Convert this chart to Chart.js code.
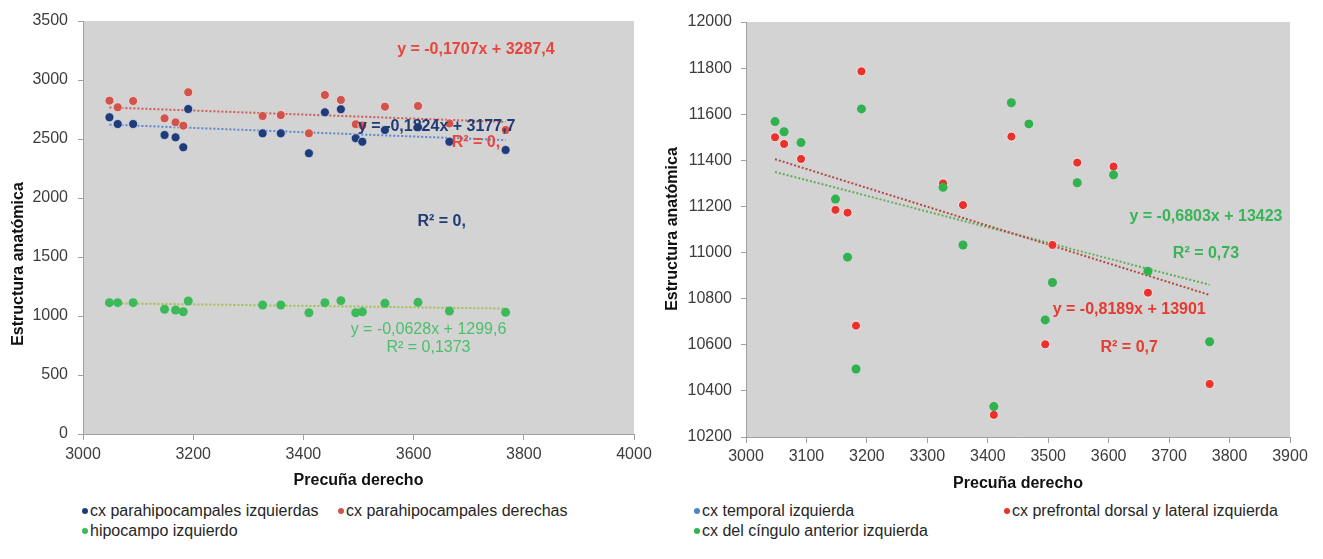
<!DOCTYPE html>
<html>
<head>
<meta charset="utf-8">
<script src="https://cdn.jsdelivr.net/npm/chart.js@4.4.0/dist/chart.umd.min.js"></script>
<style>
  html, body { margin: 0; padding: 0; background: #fff; }
  #wrap { position: relative; width: 1323px; height: 559px; overflow: hidden;
          font-family: "Liberation Sans", Arial, sans-serif; }
  .box { position: absolute; top: 0; height: 495px; }
  #boxL { left: 0; width: 660px; }
  #boxR { left: 660px; width: 663px; }
  .item { position: absolute; display: flex; align-items: center; white-space: nowrap;
          font-size: 16px; color: #262626; height: 20px; }
  .dot { width: 6px; height: 6px; border-radius: 50%; margin-right: 2px; }
</style>
</head>
<body>
<div id="wrap">
  <div class="box" id="boxL"><canvas id="chartL" width="660" height="495"></canvas></div>
  <div class="box" id="boxR"><canvas id="chartR" width="663" height="495"></canvas></div>
  <div id="legendL"></div>
  <div id="legendR"></div>
</div>
<script>
// Precuña derecho volume of each subject (shared x values)
const precunaDerecho = [3048, 3063, 3091, 3148, 3168, 3182, 3191, 3326, 3359, 3410, 3439, 3468, 3495, 3507, 3548, 3608, 3665, 3767];

// Left panel series
const parahipIzquierdas = [2684, 2627, 2627, 2534, 2514, 2430, 2754, 2548, 2548, 2379, 2726, 2752, 2506, 2477, 2576, 2600, 2477, 2407];
const parahipDerechas   = [2825, 2769, 2822, 2675, 2641, 2613, 2896, 2695, 2703, 2548, 2873, 2831, 2625, 2615, 2774, 2780, 2632, 2576];
const hipocampoIzq      = [1113, 1113, 1113, 1057, 1051, 1036, 1127, 1093, 1093, 1028, 1113, 1130, 1028, 1036, 1108, 1116, 1042, 1031];

// Right panel series
const temporalIzq   = [];  // values fall outside the plotted range
const prefrontalIzq = [11500, 11471, 11406, 11185, 11173, 10683, 11786, 11300, 11206, 10296, 11503, 11558, 10602, 11033, 11390, 11373, 10826, 10430];
const cinguloIzq    = [11568, 11524, 11477, 11232, 10980, 10495, 11623, 11283, 11033, 10332, 11650, 11558, 10708, 10870, 11303, 11337, 10919, 10613];

// Linear fits (slope, intercept) and R² texts
const fitSlopeL     = [-0.1824, -0.1707, -0.0628];
const fitInterceptL = [3177.7, 3287.4, 1299.6];
const fitR2L        = ['0,', '0,', '0,1373'];
const fitSlopeR     = [-0.8189, -0.6803];
const fitInterceptR = [13901, 13423];
const fitR2R        = ['0,7', '0,73'];

// Axis ticks
const xTicksL = [3000, 3200, 3400, 3600, 3800, 4000];
const yTicksL = [0, 500, 1000, 1500, 2000, 2500, 3000, 3500];
const xTicksR = [3000, 3100, 3200, 3300, 3400, 3500, 3600, 3700, 3800, 3900];
const yTicksR = [10200, 10400, 10600, 10800, 11000, 11200, 11400, 11600, 11800, 12000];

const FONT = '"Liberation Sans", Arial, sans-serif';
const fmt = v => String(v).replace('.', ',');
const eqText = (m, b) => 'y = ' + fmt(m) + 'x + ' + fmt(b);
const pts = ys => ys.map((y, i) => ({ x: precunaDerecho[i], y }));
const xMin = Math.min(...precunaDerecho), xMax = Math.max(...precunaDerecho);
const fitLine = (m, b) => [{ x: xMin, y: m * xMin + b }, { x: xMax, y: m * xMax + b }];

function scatterSet(label, ys, color, order, border) {
  return { type: 'scatter', label, data: pts(ys), order,
    backgroundColor: color, borderColor: border || color,
    pointRadius: 4.5, pointHoverRadius: 4.5, pointBorderWidth: border ? 1 : 0 };
}
function trendSet(m, b, color) {
  return { type: 'line', label: '', trend: true, data: fitLine(m, b), order: 10,
    borderColor: color, borderWidth: 2, borderDash: [2, 2], pointRadius: 0, fill: false };
}

const plotBg = {
  id: 'plotBg',
  beforeDraw(chart, args, opts) {
    const { ctx, chartArea: a } = chart;
    ctx.save();
    ctx.fillStyle = opts.color;
    ctx.fillRect(a.left, a.top, a.right - a.left, a.bottom - a.top);
    ctx.restore();
  }
};
const fitLabels = {
  id: 'fitLabels',
  afterDatasetsDraw(chart, args, opts) {
    const { ctx, scales: { x, y } } = chart;
    ctx.save();
    ctx.textAlign = 'center';
    ctx.textBaseline = 'middle';
    (opts.items || []).forEach(it => {
      ctx.font = (it.bold ? 'bold ' : '') + '16px ' + FONT;
      ctx.fillStyle = it.color;
      ctx.fillText(it.text, x.getPixelForValue(it.x), y.getPixelForValue(it.y));
    });
    ctx.restore();
  }
};
const yTitle = {
  id: 'yTitle',
  afterDraw(chart, args, opts) {
    const { ctx } = chart;
    ctx.save();
    ctx.translate(opts.cx, opts.cy);
    ctx.rotate(-Math.PI / 2);
    ctx.font = 'bold 16px ' + FONT;
    ctx.fillStyle = '#111';
    ctx.textAlign = 'center';
    ctx.textBaseline = 'middle';
    ctx.fillText(opts.text, 0, 0);
    ctx.restore();
  }
};

function makeScales(o) {
  const axisColor = '#a0a0a0';
  const tickFont = { family: FONT, size: 16 };
  return {
    x: {
      type: 'linear', min: o.xTicks[0], max: o.xTicks[o.xTicks.length - 1],
      afterBuildTicks: s => { s.ticks = o.xTicks.map(v => ({ value: v })); },
      afterFit: s => { s.height = o.xHeight; },
      border: { display: true, color: axisColor, width: 1 },
      grid: { drawOnChartArea: false, drawTicks: true, tickLength: 6, color: axisColor },
      ticks: { color: '#3c3c3c', font: tickFont, padding: o.xPad, maxRotation: 0,
               callback: v => String(v) },
      title: { display: true, text: 'Precuña derecho', color: '#111',
               font: { family: FONT, size: 16, weight: 'bold' }, padding: { top: 0, bottom: o.titlePad } }
    },
    y: {
      type: 'linear', min: o.yTicks[0], max: o.yTicks[o.yTicks.length - 1],
      afterBuildTicks: s => { s.ticks = o.yTicks.map(v => ({ value: v })); },
      afterFit: s => { s.width = o.yWidth; },
      border: { display: true, color: axisColor, width: 1 },
      grid: { drawOnChartArea: false, drawTicks: true, tickLength: 5, color: axisColor },
      ticks: { color: '#3c3c3c', font: tickFont, padding: o.yPad, callback: v => String(v) }
    }
  };
}

const common = {
  responsive: false, animation: false,
  plugins: { legend: { display: false }, tooltip: { enabled: false }, plotBg: { color: '#d3d3d3' } }
};

// Left panel
const chartL = new Chart(document.getElementById('chartL'), {
  data: {
    datasets: [
      scatterSet('cx parahipocampales izquierdas', parahipIzquierdas, '#1f3b7a', 3, 'rgba(220,225,240,0.7)'),
      scatterSet('cx parahipocampales derechas', parahipDerechas, '#d0534c', 2, 'rgba(245,225,220,0.8)'),
      scatterSet('hipocampo izquierdo', hipocampoIzq, '#3cba5a', 1),
      trendSet(fitSlopeL[0], fitInterceptL[0], '#5b87cf'),
      trendSet(fitSlopeL[1], fitInterceptL[1], '#cf5d56'),
      trendSet(fitSlopeL[2], fitInterceptL[2], '#a3c04e')
    ]
  },
  options: {
    ...common,
    layout: { padding: { left: 0, right: 26, top: 21, bottom: 0 } },
    scales: makeScales({ xTicks: xTicksL, yTicks: yTicksL, xHeight: 61, yWidth: 83, xPad: 5, yPad: 10, titlePad: 5 }),
    plugins: {
      ...common.plugins,
      yTitle: { text: 'Estructura anatómica', cx: 19, cy: 264 },
      fitLabels: { items: [
        { text: eqText(fitSlopeL[1], fitInterceptL[1]), x: 3713, y: 3254, color: '#e8463c', bold: true },
        { text: eqText(fitSlopeL[0], fitInterceptL[0]), x: 3642, y: 2602, color: '#213a73', bold: true },
        { text: 'R² = ' + fitR2L[1], x: 3713, y: 2466, color: '#e8463c', bold: true },
        { text: 'R² = ' + fitR2L[0], x: 3651, y: 1797, color: '#213a73', bold: true },
        { text: eqText(fitSlopeL[2], fitInterceptL[2]), x: 3627, y: 881, color: '#4cbf6a', bold: false },
        { text: 'R² = ' + fitR2L[2], x: 3627, y: 729, color: '#4cbf6a', bold: false }
      ] }
    }
  },
  plugins: [plotBg, fitLabels, yTitle]
});

// Right panel
const chartR = new Chart(document.getElementById('chartR'), {
  data: {
    datasets: [
      scatterSet('cx temporal izquierda', temporalIzq, '#4a86c8', 3),
      scatterSet('cx prefrontal dorsal y lateral izquierda', prefrontalIzq, '#e8322b', 2, 'rgba(255,240,235,0.9)'),
      scatterSet('cx del cíngulo anterior izquierda', cinguloIzq, '#30b24f', 1),
      trendSet(fitSlopeR[0], fitInterceptR[0], '#b24a42'),
      trendSet(fitSlopeR[1], fitInterceptR[1], '#62ad57')
    ]
  },
  options: {
    ...common,
    layout: { padding: { left: 0, right: 33, top: 22, bottom: 0 } },
    scales: makeScales({ xTicks: xTicksR, yTicks: yTicksR, xHeight: 58, yWidth: 86, xPad: 4, yPad: 9, titlePad: 2 }),
    plugins: {
      ...common.plugins,
      yTitle: { text: 'Estructura anatómica', cx: 12.5, cy: 229 },
      fitLabels: { items: [
        { text: eqText(fitSlopeR[1], fitInterceptR[1]), x: 3761, y: 11154, color: '#37b556', bold: true },
        { text: 'R² = ' + fitR2R[1], x: 3761, y: 10994, color: '#37b556', bold: true },
        { text: eqText(fitSlopeR[0], fitInterceptR[0]), x: 3634, y: 10751, color: '#e53b30', bold: true },
        { text: 'R² = ' + fitR2R[0], x: 3634, y: 10586, color: '#e53b30', bold: true }
      ] }
    }
  },
  plugins: [plotBg, fitLabels, yTitle]
});

// Legends built from the chart datasets
function buildLegend(chart, holder, spots) {
  const sets = chart.data.datasets.filter(d => !d.trend);
  sets.forEach((d, i) => {
    const el = document.createElement('div');
    el.className = 'item';
    el.style.left = spots[i][0] + 'px';
    el.style.top = (spots[i][1] - 10) + 'px';
    const dot = document.createElement('span');
    dot.className = 'dot';
    dot.style.background = d.backgroundColor;
    el.appendChild(dot);
    el.appendChild(document.createTextNode(d.label));
    holder.appendChild(el);
  });
}
buildLegend(chartL, document.getElementById('legendL'), [[82, 511], [338, 511], [82, 531]]);
buildLegend(chartR, document.getElementById('legendR'), [[694, 511], [1004, 511], [694, 531]]);
</script>
</body>
</html>
